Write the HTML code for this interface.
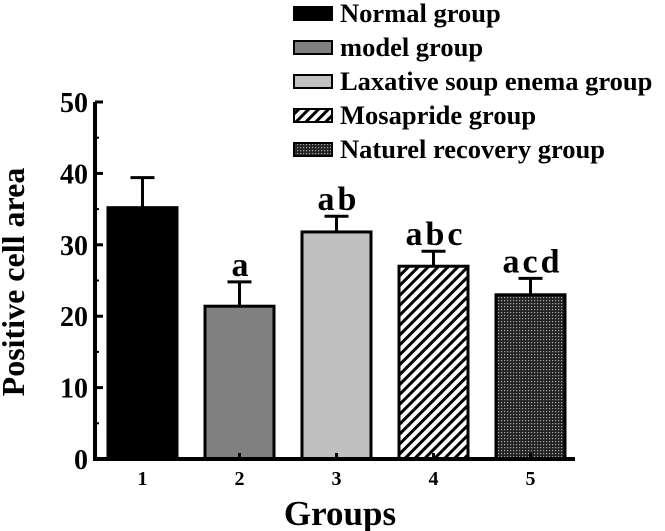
<!DOCTYPE html>
<html><head><meta charset="utf-8"><style>
body{margin:0;background:#fff}
svg{display:block;font-family:"Liberation Serif",serif;font-weight:bold}
</style></head><body>
<svg id="chart" width="665" height="531">
<defs>
<pattern id="hatch" width="7" height="7" patternUnits="userSpaceOnUse" patternTransform="rotate(45)">
<rect width="7" height="7" fill="#fff"/><rect width="3" height="7" fill="#000"/></pattern>
<pattern id="dots" width="3" height="3" patternUnits="userSpaceOnUse">
<rect width="3" height="3" fill="#222"/><rect width="1.2" height="1.2" fill="#aaa"/></pattern>
</defs>
<g id="legend"></g>
<g id="plot"></g>
<text x="24" y="282" font-size="32" text-anchor="middle" transform="rotate(-90 24 282)">Positive cell area</text>
<text x="340" y="525" font-size="35" text-anchor="middle">Groups</text>
</svg>
<script>
const categories=["1","2","3","4","5"];
const values=[35.2,21.4,31.8,27.0,23.0];
const errors=[4.2,3.4,2.2,2.1,2.3];
const sigLabels=["","a","ab","abc","acd"];
const legendLabels=["Normal group","model group","Laxative soup enema group","Mosapride group","Naturel recovery group"];
const yTicks=[0,10,20,30,40,50];
const fills=["#000","#808080","#c0c0c0","url(#hatch)","url(#dots)"];
const NS="http://www.w3.org/2000/svg";
const y0=459,y50=102,axX=95;
const yS=v=>y0-(v/50)*(y0-y50);
const xC=i=>142.5+i*97;
const bw=69;
function mk(tag,attrs,parent,txt){const e=document.createElementNS(NS,tag);for(const k in attrs)e.setAttribute(k,attrs[k]);if(txt!==undefined)e.textContent=txt;parent.appendChild(e);return e;}
const plot=document.getElementById('plot');
values.forEach((v,i)=>{
 const r=mk('rect',{x:xC(i)-bw/2,y:yS(v),width:bw,height:y0-yS(v),fill:fills[i],stroke:'#000','stroke-width':3},plot);
 
 
 const e=mk('path',{d:`M${xC(i)} ${yS(v)}V${yS(v+errors[i])}M${xC(i)-12} ${yS(v+errors[i])}H${xC(i)+12}`,stroke:'#000','stroke-width':3,fill:'none'},plot);
 
 
 if(sigLabels[i]){const t=mk('text',{x:xC(i)+2,y:yS(v+errors[i])-6,'font-size':34,'text-anchor':'middle','letter-spacing':3},plot,sigLabels[i]);
 
 }
 const xt=mk('text',{x:xC(i),y:485,'font-size':20,'text-anchor':'middle'},plot,categories[i]);
 
 
 mk('line',{x1:xC(i),x2:xC(i),y1:y0,y2:y0-6,stroke:'#000','stroke-width':3},plot);
});
const ax=mk('path',{d:`M${axX} ${y50}V${y0}H${xC(4)+bw/2+10}`,stroke:'#000','stroke-width':4,fill:'none'},plot);


yTicks.forEach(t=>{
 mk('line',{x1:axX,x2:axX+8,y1:yS(t),y2:yS(t),stroke:'#000','stroke-width':3},plot);
 if(t<50) mk('line',{x1:axX,x2:axX+4,y1:yS(t+5),y2:yS(t+5),stroke:'#000','stroke-width':2},plot);
 const l=mk('text',{x:axX-7,y:yS(t)+10,'font-size':28,'text-anchor':'end'},plot,String(t));
 
 
});
const lg=document.getElementById('legend');
legendLabels.forEach((s,i)=>{
 const y=13+i*34;
 const b=mk('rect',{x:294,y:y-6,width:38,height:13,fill:fills[i],stroke:'#000','stroke-width':2},lg);
 
 
 const t=mk('text',{x:340,y:y+9,'font-size':26.5},lg,s);
 
 
});
</script>
</body></html>
